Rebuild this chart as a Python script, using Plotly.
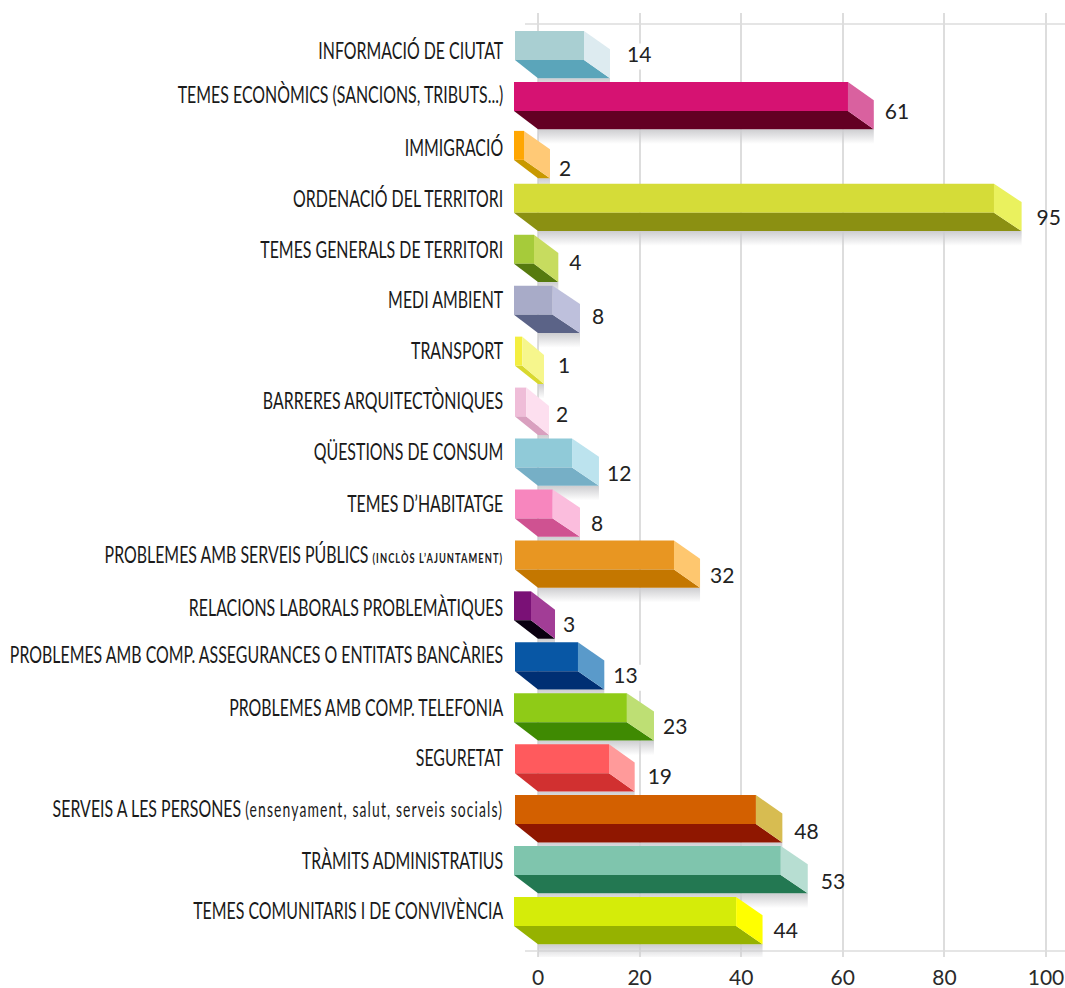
import plotly.graph_objects as go

# ---- data ----
categories = [
    "INFORMACIÓ DE CIUTAT", "TEMES ECONÒMICS (SANCIONS, TRIBUTS...)", "IMMIGRACIÓ",
    "ORDENACIÓ DEL TERRITORI", "TEMES GENERALS DE TERRITORI", "MEDI AMBIENT", "TRANSPORT",
    "BARRERES ARQUITECTÒNIQUES", "QÜESTIONS DE CONSUM", "TEMES D’HABITATGE",
    'PROBLEMES AMB SERVEIS PÚBLICS <span style="font-size:14px;font-weight:bold;letter-spacing:1.6px">(INCLÒS L’AJUNTAMENT)</span>',
    "RELACIONS LABORALS PROBLEMÀTIQUES",
    "PROBLEMES AMB COMP. ASSEGURANCES O ENTITATS BANCÀRIES",
    "PROBLEMES AMB COMP. TELEFONIA", "SEGURETAT",
    'SERVEIS A LES PERSONES <span style="font-size:21px;letter-spacing:1.7px">(ensenyament, salut, serveis socials)</span>',
    "TRÀMITS ADMINISTRATIUS", "TEMES COMUNITARIS I DE CONVIVÈNCIA",
]
labelled_values = [14, 61, 2, 95, 4, 8, 1, 2, 12, 8, 32, 3, 13, 23, 19, 48, 53, 44]
# where the drawn bars actually end on the x axis, back corner and front face
bar_ends = [14.17, 66.1, 2.36, 95.2, 4.0, 8.27, 1.18, 2.17, 12.0, 8.27, 31.9, 3.35, 13.05, 22.83, 19.03, 48.1, 53.1, 44.2]
front_ends = [9.06, 61.02, -2.76, 89.76, -0.79, 2.9, -3.09, -2.3, 6.7, 2.9, 26.77, -1.38, 7.87, 17.5, 13.98, 42.9, 47.8, 39.0]
x_ticks = [0, 20, 40, 60, 80, 100]

# ---- styles ----
front_colors = ["#A9CFD2","#D61272","#FFA602","#D5DC38","#A6CB3A","#A8ABC8","#F4EE40","#EFBDD8","#90CAD8",
                "#F786BE","#E89622","#7A1176","#0857A5","#8FCB17","#FF5A5D","#D36000","#7FC5AD","#D5EC09"]
floor_colors = ["#5BA5BA","#630023","#C89800","#8B9012","#567A0F","#5B6387","#D8D82E","#D9A0BF","#76AFC6",
                "#CF5291","#C47700","#0A0010","#002F73","#3F8A02","#D13030","#8F1700","#237852","#96B200"]
side_colors = ["#DDEBF0","#D9619F","#FFC976","#EAF15E","#C7DC5F","#BEC0DC","#F6F68C","#FDDFEF","#BCE3EE",
               "#FBBDDD","#FEC76F","#A23D96","#5A9ACA","#BEDF74","#FF9A9A","#D7BC51","#B7DED2","#FFFF00"]
front_left_px = [515,514,514,514,514,514,515,515,515,515,515,514,515,514,515,515,514,514]
row_nudge_px = [0,0,-2,0,0,0,0,0,0,0,0,0,0,0,0,0,0,0]
label_dx_px = [17,11,9,15,11,12,14,7,8,11,10,8,9,9,13,12,13,11]
label_dy_px = [-10,-4,2,0,-6,-2,-4,-6,2,1,2,0,0,0,-1,3,2,0]
category_centre_px = [51,95,148,199,250,300,351,401,452,504,555,608,655,708,758,809,861,911]
gap_rows = [0, 12]     # rows whose value label interrupts a grid line

W, H = 1065, 988
PX_X = 5.08            # px per x unit
PX_Y = 50.94           # px per row
X0_PX, ROW0_PX = 538, 52
PLOT_L, PLOT_R, PLOT_T, PLOT_B = 508, 1065, 13, 957
TOP = (31 - ROW0_PX) / PX_Y
MID = (60 - ROW0_PX) / PX_Y
LOW = (78.3 - ROW0_PX) / PX_Y
SHADOW = (93 - ROW0_PX) / PX_Y
SIDE_DROP = LOW - MID

fig = go.Figure()
def poly(xs, ys, color, **kw):
    fig.add_trace(go.Scatter(x=xs, y=ys, mode="lines", fill="toself", line=dict(width=0),
                             fillcolor=color, hoverinfo="skip", showlegend=False, **kw))

label_x = [e + dx / PX_X for e, dx in zip(bar_ends, label_dx_px)]
label_y = [i + (14.5 + dy) / PX_Y for i, dy in enumerate(label_dy_px)]

for i in gap_rows:
    x0, x1 = label_x[i] - 5 / PX_X, label_x[i] + 34 / PX_X
    y0, y1 = label_y[i] - 13 / PX_Y, label_y[i] + 13 / PX_Y
    poly([x0, x1, x1, x0, x0], [y0, y0, y1, y1, y0], "#FFFFFF")

for i, (end, front) in enumerate(zip(bar_ends, front_ends)):
    left = (front_left_px[i] - X0_PX) / PX_X
    r = i + row_nudge_px[i] / PX_Y
    poly([0, end, end, 0, 0], [r+LOW, r+LOW, r+SHADOW, r+SHADOW, r+LOW], "#FFFFFF",
         fillgradient=dict(type="vertical", colorscale=[[0, "rgba(205,205,208,0)"], [1, "rgba(205,205,208,1)"]]))
    poly([left, front, front, left, left], [r+TOP, r+TOP, r+MID, r+MID, r+TOP], front_colors[i])
    poly([left, front, end, 0, left], [r+MID, r+MID, r+LOW, r+LOW, r+MID], floor_colors[i])
    poly([front, end, end, front, front], [r+TOP, r+TOP+SIDE_DROP, r+LOW, r+MID, r+TOP], side_colors[i])

fig.add_trace(go.Scatter(
    x=label_x, y=label_y,
    mode="text", text=[str(v) for v in labelled_values], textposition="middle right",
    textfont=dict(family="Lato", size=21, color="#222222"), hoverinfo="skip", showlegend=False, cliponaxis=False))

for y_px in (24, 951):
    fig.add_shape(type="line", xref="x", yref="y", layer="below",
                  x0=(525 - X0_PX) / PX_X, x1=(PLOT_R - X0_PX) / PX_X,
                  y0=(y_px - ROW0_PX) / PX_Y, y1=(y_px - ROW0_PX) / PX_Y,
                  line=dict(color="#DDDDDD", width=1.5))

fig.update_layout(
    template="none",
    width=W, height=H, autosize=False, paper_bgcolor="white", plot_bgcolor="white",
    margin=dict(l=PLOT_L, r=W-PLOT_R, t=PLOT_T, b=H-PLOT_B, pad=0), showlegend=False,
    xaxis=dict(range=[(PLOT_L-X0_PX)/PX_X, (PLOT_R-X0_PX)/PX_X], tickvals=x_ticks, showgrid=True,
               automargin=False, gridcolor="#DDDDDD", gridwidth=1.5, zeroline=False, showline=False,
               ticks="outside", ticklen=2, tickcolor="rgba(0,0,0,0)",
               tickfont=dict(family="Lato", size=21, color="#2A2A2A")),
    yaxis=dict(range=[(PLOT_B-ROW0_PX)/PX_Y, (PLOT_T-ROW0_PX)/PX_Y],
               tickvals=[(c - ROW0_PX) / PX_Y for c in category_centre_px], ticktext=categories,
               automargin=False, showgrid=False, zeroline=False, showline=False, ticks="outside", ticklen=1,
               tickcolor="rgba(0,0,0,0)",
               tickfont=dict(family="Lato", size=24, color="#1A1A1A")),
)
SQUEEZE = 0.663
post = """
document.body.style.margin='0';document.body.style.overflow='hidden';
(function(){
  var gd=document.getElementById('{plot_id}');
  function squeeze(){
    gd.querySelectorAll('.ytick text').forEach(function(t){
      if(t.dataset.sq) return;
      var x=t.getAttribute('x'),y=t.getAttribute('y'),tr=t.getAttribute('transform')||'';
      t.setAttribute('transform',tr+' translate(2,0) translate('+x+','+y+') scale(%s,1) translate('+(-x)+','+(-y)+')');
      t.dataset.sq='1';
    });
  }
  squeeze(); gd.on('plotly_afterplot',squeeze);
})();
""" % SQUEEZE
fig.write_html("out.html", post_script=post, config=dict(displayModeBar=False, responsive=False))
